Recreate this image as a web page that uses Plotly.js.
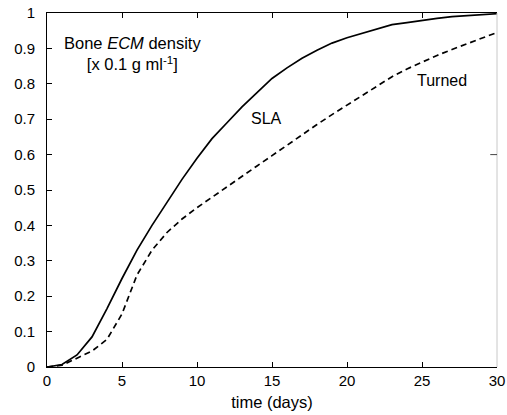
<!DOCTYPE html>
<html>
<head>
<meta charset="utf-8">
<script src="https://cdn.plot.ly/plotly-3.0.1.min.js"></script>
<style>html,body{margin:0;padding:0;background:#fff;}#chart{width:507px;height:415px;}</style>
</head>
<body>
<div id="chart"></div>
<script>
const days = [0,1,2,3,4,5,6,7,8,9,10,11,12,13,14,15,16,17,18,19,20,21,22,23,24,25,26,27,28,29,30];
const slaDensity = [0,0.007,0.034,0.085,0.165,0.25,0.33,0.40,0.465,0.53,0.59,0.645,0.69,0.735,0.775,0.815,0.845,0.872,0.895,0.915,0.93,0.943,0.955,0.967,0.973,0.98,0.985,0.99,0.993,0.996,0.998];
const turnedDensity = [0,0.005,0.025,0.045,0.078,0.15,0.26,0.33,0.38,0.418,0.45,0.48,0.51,0.54,0.568,0.597,0.627,0.655,0.685,0.713,0.74,0.768,0.795,0.82,0.842,0.862,0.88,0.897,0.913,0.93,0.945];
const xTicks = [0,5,10,15,20,25,30];
const yTicks = [0,0.1,0.2,0.3,0.4,0.5,0.6,0.7,0.8,0.9,1];
const yTickText = ['0','0.1','0.2','0.3','0.4','0.5','0.6','0.7','0.8','0.9','1'];

const font = 'Liberation Sans, Arial, sans-serif';

const traces = [
  {x: days, y: slaDensity, type: 'scatter', mode: 'lines', name: 'SLA',
   line: {color: '#000', width: 1.7}},
  {x: days, y: turnedDensity, type: 'scatter', mode: 'lines', name: 'Turned',
   line: {color: '#000', width: 1.7, dash: '6px,4px'}}
];

const layout = {
  width: 507, height: 415,
  margin: {l: 47, r: 10, t: 13, b: 48},
  paper_bgcolor: '#fff', plot_bgcolor: '#fff',
  showlegend: false,
  font: {family: font, size: 15, color: '#000'},
  xaxis: {
    range: [0, 30], tickvals: xTicks, ticktext: xTicks.map(String),
    showgrid: false, zeroline: false, showline: true, linecolor: '#000', linewidth: 1,
    mirror: 'ticks', ticks: 'inside', ticklen: 5, tickcolor: '#000',
    tickfont: {family: font, size: 15, color: '#000'},
    title: {text: 'time (days)', font: {family: font, size: 16.5, color: '#000'}, standoff: 8}
  },
  yaxis: {
    range: [0, 1], tickvals: yTicks, ticktext: yTickText,
    showgrid: false, zeroline: false, showline: true, linecolor: '#000', linewidth: 1,
    ticks: 'inside', ticklen: 5, tickcolor: '#000', ticklabelstandoff: 8,
    tickfont: {family: font, size: 15, color: '#000'}
  },
  shapes: [
    {type: 'line', xref: 'paper', yref: 'paper', x0: 1, x1: 1, y0: 0, y1: 1,
     line: {color: '#c8c8c8', width: 1}},
    {type: 'line', xref: 'paper', yref: 'y', x0: 1, x1: 0.985, y0: 0.6, y1: 0.6,
     line: {color: '#444', width: 1}}
  ],
  annotations: [
    {xref: 'x', yref: 'y', x: 5.67, y: 0.887, text: 'Bone <i>ECM</i> density<br>[x 0.1 g ml<sup>-1</sup>]',
     showarrow: false, align: 'center', xanchor: 'center', yanchor: 'middle',
     font: {family: font, size: 16.5, color: '#000'}},
    {xref: 'x', yref: 'y', x: 14.6, y: 0.703, text: 'SLA', showarrow: false,
     font: {family: font, size: 16, color: '#000'}},
    {xref: 'x', yref: 'y', x: 26.3, y: 0.81, text: 'Turned', showarrow: false,
     font: {family: font, size: 16, color: '#000'}}
  ]
};

Plotly.newPlot('chart', traces, layout, {displayModeBar: false, staticPlot: true});
</script>
</body>
</html>
